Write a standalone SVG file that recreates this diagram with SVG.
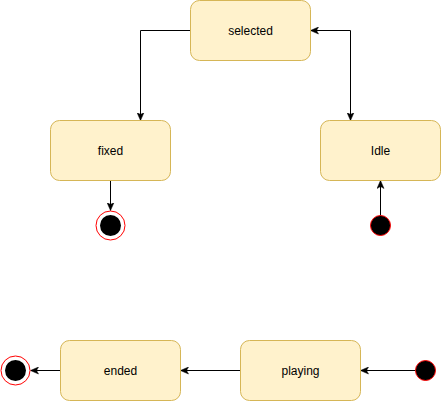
<svg xmlns="http://www.w3.org/2000/svg" width="441" height="401" viewBox="0 0 441 401">
<style>
.st{fill:#fff2cc;stroke:#d6b656;stroke-width:1}
.lb{font-family:"Liberation Sans",Arial,sans-serif;font-size:12px;fill:#000;text-anchor:middle;dominant-baseline:central}
.e{fill:none;stroke:#000;stroke-width:1}
.init{fill:#000;stroke:#ff0000;stroke-width:1}
.fo{fill:#fff;stroke:#ff0000;stroke-width:1}
</style>
<defs>
<marker id="a" markerUnits="userSpaceOnUse" viewBox="0 0 8 8" markerWidth="8" markerHeight="8" refX="8" refY="4" orient="auto-start-reverse">
<path d="M0,0.5 L8,4 L0,7.5 L2,4 Z" fill="#000" stroke="#000" stroke-width="0.5"/>
</marker>
</defs>
<rect width="441" height="401" fill="#fff"/>
<g id="connectors">
<path class="e" d="M190.5,30.5 H140.5 V120.5" marker-end="url(#a)"/>
<path class="e" d="M310.5,30.5 H350.5 V120.5" marker-start="url(#a)" marker-end="url(#a)"/>
<path class="e" d="M110.5,180.5 V210.5" marker-end="url(#a)"/>
<path class="e" d="M380.5,215.5 V180.5" marker-end="url(#a)"/>
<path class="e" d="M415.5,370.5 H360.5" marker-end="url(#a)"/>
<path class="e" d="M240.5,370.5 H180.5" marker-end="url(#a)"/>
<path class="e" d="M60.5,370.5 H30.5" marker-end="url(#a)"/>
</g>
<g id="selected"><rect class="st" x="190.5" y="0.5" width="120" height="60" rx="9"/><text class="lb" x="250.5" y="30.5">selected</text></g>
<g id="fixed"><rect class="st" x="50.5" y="120.5" width="120" height="60" rx="9"/><text class="lb" x="110.5" y="150.5">fixed</text></g>
<g id="idle"><rect class="st" x="320.5" y="120.5" width="120" height="60" rx="9"/><text class="lb" x="380.5" y="150.5">Idle</text></g>
<g id="end1"><circle class="fo" cx="110.5" cy="225.5" r="14.5"/><circle cx="110.5" cy="225.5" r="10.5" fill="#000"/></g>
<g id="start1"><circle class="init" cx="380.5" cy="225.5" r="10"/></g>
<g id="ended"><rect class="st" x="60.5" y="340.5" width="120" height="60" rx="9"/><text class="lb" x="120.5" y="370.5">ended</text></g>
<g id="playing"><rect class="st" x="240.5" y="340.5" width="120" height="60" rx="9"/><text class="lb" x="300.5" y="370.5">playing</text></g>
<g id="start2"><circle class="init" cx="425.5" cy="370.5" r="10"/></g>
<g id="end2"><circle class="fo" cx="15.5" cy="370.5" r="14.5"/><circle cx="15.5" cy="370.5" r="10.5" fill="#000"/></g>
</svg>
